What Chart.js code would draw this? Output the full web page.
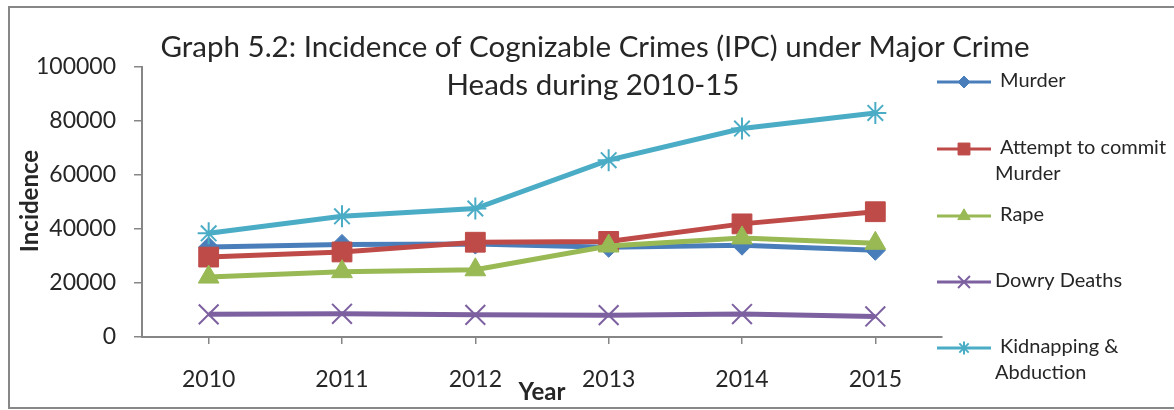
<!DOCTYPE html>
<html>
<head>
<meta charset="utf-8">
<script src="https://cdn.jsdelivr.net/npm/chart.js@4/dist/chart.umd.min.js"></script>
<style>
  html, body { margin: 0; padding: 0; background: #fff; }
  #wrap { width: 1174px; height: 410px; position: relative; }
</style>
</head>
<body>
<div id="wrap"><canvas id="myChart"></canvas></div>
<script>
// data
const years = ["2010", "2011", "2012", "2013", "2014", "2015"];
const murder = [33300, 34300, 34400, 33200, 34000, 32100];
const attempt = [29600, 31500, 35100, 35400, 41900, 46400];
const rape = [22200, 24200, 24900, 33700, 36700, 34700];
const dowry = [8400, 8600, 8200, 8100, 8500, 7600];
const kidnap = [38400, 44700, 47600, 65500, 77200, 83000];
const yTicks = [0, 20000, 40000, 60000, 80000, 100000];

const font = "Lato, 'Liberation Sans', sans-serif";
const textColor = "#262626";
const axisColor = "#868686";

function serie(label, data, color, style, radius, order, bw) {
  return {
    label: label, data: data, borderColor: color, backgroundColor: color,
    pointBackgroundColor: color, pointBorderColor: color,
    pointStyle: style, pointRadius: radius, pointHoverRadius: radius,
    pointBorderWidth: bw, borderWidth: 5, tension: 0, order: order
  };
}

const datasets = [
  serie("Murder", murder, "#4A7EBB", "rectRot", 10, 5, 1),
  serie("Attempt to commit Murder", attempt, "#BE4B48", "rect", 14, 4, 1),
  serie("Rape", rape, "#98B954", "triangle", 12, 3, 1),
  serie("Dowry Deaths", dowry, "#7D60A0", "crossRot", 14, 2, 2),
  serie("Kidnapping & Abduction", kidnap, "#4BACC6", "star", 11, 1, 2)
];

// legend text lines, one entry per dataset
const legendLines = [
  ["Murder"],
  ["Attempt to commit", "Murder"],
  ["Rape"],
  ["Dowry Deaths"],
  ["Kidnapping &", "Abduction"]
];
const legendY = [82, 149, 216, 282, 348];

const extras = {
  id: "extras",
  afterDraw(chart) {
    const ctx = chart.ctx;
    ctx.save();
    // outer frame
    ctx.strokeStyle = "#878787";
    ctx.lineWidth = 2;
    ctx.strokeRect(9, 7, 1180, 401);

    ctx.fillStyle = textColor;
    ctx.textBaseline = "middle";
    ctx.textAlign = "center";
    ctx.font = "29.5px " + font;
    ctx.fillText("Graph 5.2: Incidence of Cognizable Crimes (IPC) under Major Crime", 595, 47);
    ctx.fillText("Heads during 2010-15", 593, 85);

    ctx.font = "bold 24px " + font;
    ctx.fillText("Year", 542, 392);
    ctx.save();
    ctx.translate(30, 201);
    ctx.rotate(-Math.PI / 2);
    ctx.fillText("Incidence", 0, 0);
    ctx.restore();

    // legend
    ctx.textAlign = "left";
    ctx.font = "20px " + font;
    chart.data.datasets.forEach(function (ds, i) {
      const y = legendY[i];
      ctx.strokeStyle = ds.borderColor;
      ctx.lineWidth = 3;
      ctx.beginPath();
      ctx.moveTo(937, y);
      ctx.lineTo(991, y);
      ctx.stroke();
      ctx.fillStyle = ds.borderColor;
      ctx.strokeStyle = ds.borderColor;
      ctx.lineWidth = ds.pointBorderWidth;
      Chart.helpers.drawPoint(ctx, {pointStyle: ds.pointStyle, radius: ds.pointRadius * 0.6, borderWidth: ds.pointBorderWidth}, 964, y);
      ctx.fillStyle = textColor;
      legendLines[i].forEach(function (t, k) {
        ctx.fillText(t, k === 0 && legendLines[i].length > 1 || i === 0 || i === 2 ? 1000 : 995, y - 1 + k * 26);
      });
    });
    ctx.restore();
  }
};

new Chart(document.getElementById("myChart"), {
  type: "line",
  data: { labels: years, datasets: datasets },
  options: {
    responsive: true,
    maintainAspectRatio: false,
    animation: false,
    layout: { padding: { left: 10, right: 232, top: 67, bottom: 0 } },
    plugins: { legend: { display: false }, title: { display: false }, tooltip: { enabled: false } },
    scales: {
      x: {
        offset: true,
        afterFit(scale) { scale.height = 73; },
        grid: { offset: false, drawOnChartArea: false, drawTicks: true, tickLength: 7, color: axisColor, lineWidth: 1.5 },
        border: { display: true, color: axisColor, width: 2 },
        ticks: { color: textColor, font: { family: font, size: 23 }, padding: 22, maxRotation: 0 }
      },
      y: {
        min: 0, max: 100000,
        afterFit(scale) { scale.width = 132; },
        afterBuildTicks(scale) { scale.ticks = yTicks.map(v => ({ value: v })); },
        grid: { drawOnChartArea: false, drawTicks: true, tickLength: 8, color: axisColor, lineWidth: 1.5 },
        border: { display: true, color: axisColor, width: 2 },
        ticks: { color: textColor, font: { family: font, size: 23 }, padding: 18, callback: v => String(v) }
      }
    }
  },
  plugins: [extras]
});
</script>
</body>
</html>
